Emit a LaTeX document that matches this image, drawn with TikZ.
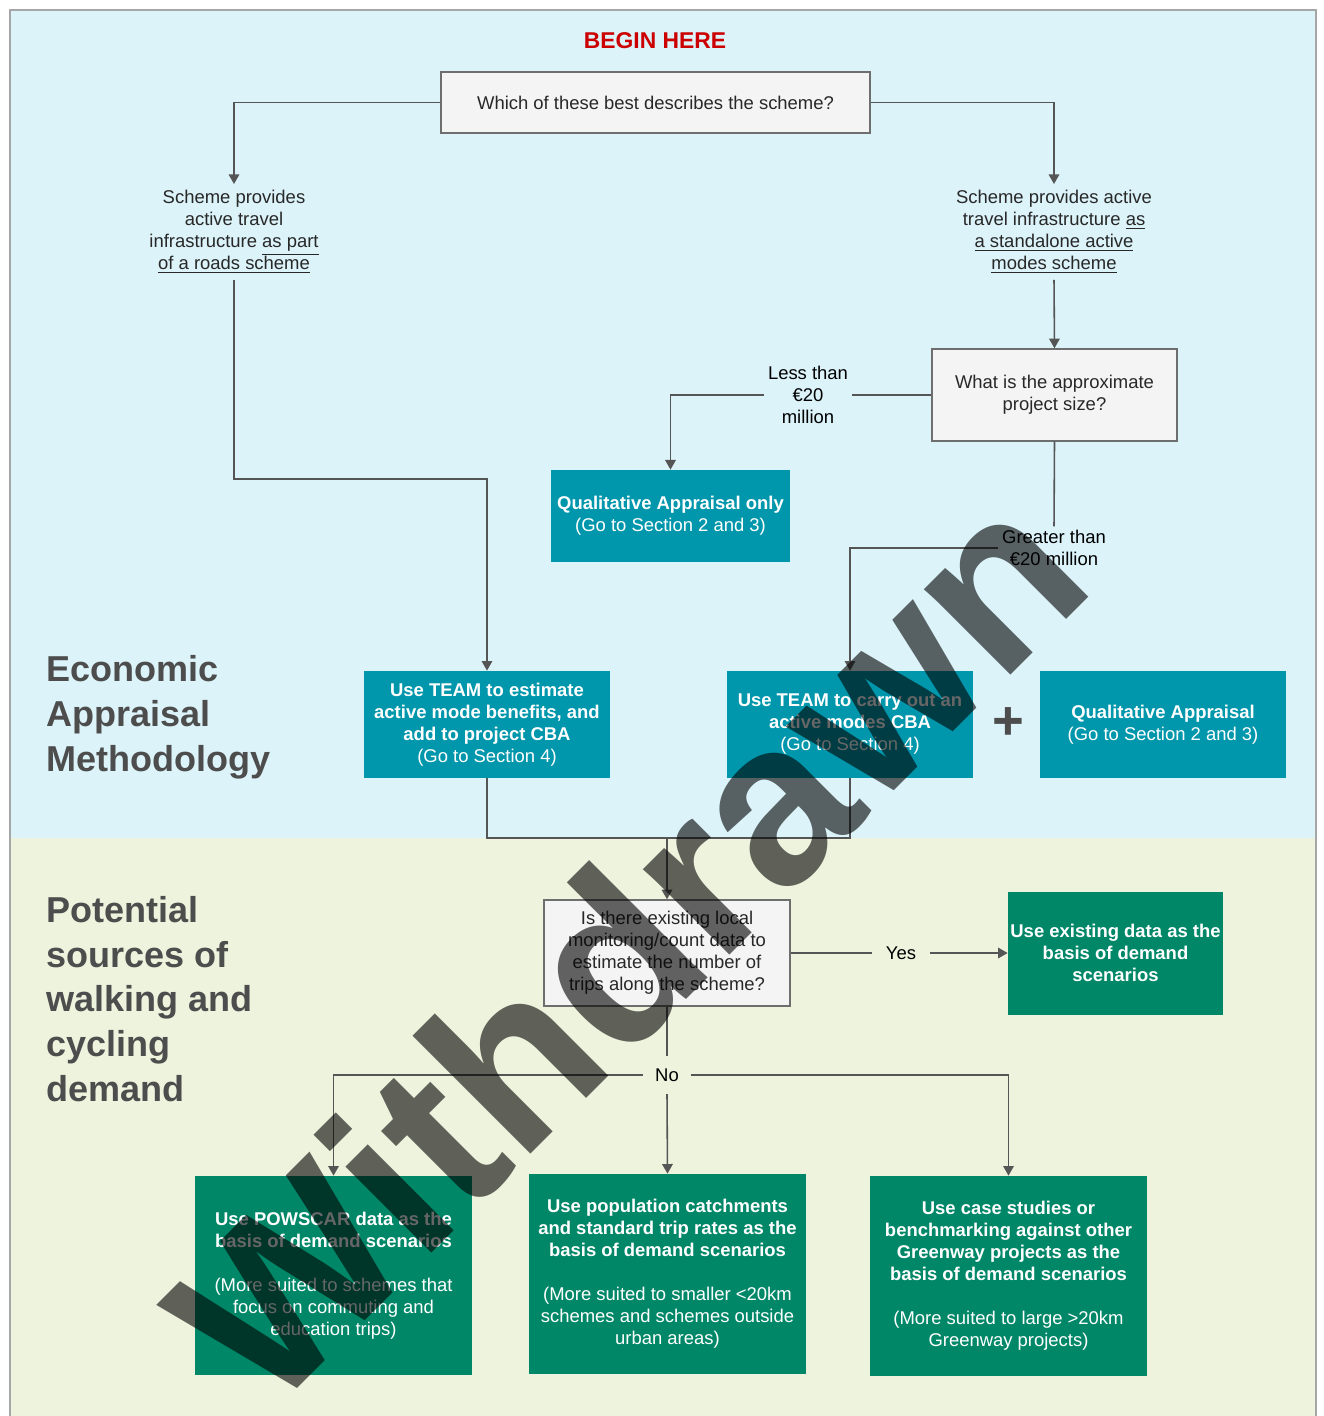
\documentclass[tikz,border=0pt]{standalone}
\usepackage{fontspec}
\setmainfont{Liberation Sans}
\usepackage{tikz}
\usetikzlibrary{arrows.meta}
\usetikzlibrary{arrows, positioning, shapes.geometric}

\definecolor{bluebg}{RGB}{219,243,249}
\definecolor{greenbg}{RGB}{238,243,221}
\definecolor{cTeal}{RGB}{0,150,171}
\definecolor{cGreen}{RGB}{0,135,104}
\definecolor{qfill}{RGB}{244,244,244}
\definecolor{qline}{RGB}{110,110,110}
\definecolor{linegray}{RGB}{85,85,85}
\definecolor{framegray}{RGB}{166,166,166}
\definecolor{darktext}{RGB}{40,40,40}
\definecolor{titlegray}{RGB}{77,77,77}
\definecolor{beginred}{RGB}{204,0,0}

\begin{document}
\begin{tikzpicture}[x=0.02cm,y=-0.02cm,>={Triangle[width=6pt,length=5.5pt]}]
	\tikzstyle{every node}=[font=\fontsize{10.5}{12.5}\selectfont,text=darktext,align=center]
	\tikzstyle{question}=[draw=qline,fill=qfill,line width=0.8pt,inner sep=0pt]
	\tikzstyle{tealbox}=[fill=cTeal,text=white,inner sep=0pt]
	\tikzstyle{greenbox}=[fill=cGreen,text=white,inner sep=0pt]
	\tikzstyle{choice}=[inner sep=3.5pt]
	\tikzstyle{branch}=[inner sep=2pt,text=black]
	\tikzstyle{title}=[font=\fontsize{20.5}{25.5}\selectfont\bfseries,text=titlegray,align=left,anchor=west,inner sep=0pt]
	\tikzstyle{wire}=[linegray,line width=0.9pt]
	\useasboundingbox (0,0) rectangle (1323,1416);
	% background panels
	\fill[bluebg] (10,10) rectangle (1316,838);
	\fill[greenbg] (10,838) rectangle (1316,1416);
	\draw[framegray,line width=0.8pt] (10,1416) -- (10,10) -- (1316,10) -- (1316,1416);
	\node[title] (econ) at (46,717) {Economic\\Appraisal\\Methodology};
	\node[title] (demand) at (46,999) {Potential\\sources of\\walking and\\cycling\\demand};
	\node[font=\fontsize{13}{15}\selectfont\bfseries,text=beginred] (begin) at (655,41) {BEGIN HERE};
	\node[question,minimum width=8.58cm,minimum height=1.22cm] (q1) at (655.5,102.5) {Which of these best describes the scheme?};
	\node[choice] (roads) at (234,232) {Scheme provides\\active travel\\infrastructure \underline{as part}\\\underline{of a roads scheme}};
	\node[choice] (standalone) at (1054,232) {Scheme provides active\\travel infrastructure \underline{as}\\\underline{a standalone active}\\\underline{modes scheme}};
	\node[question,minimum width=4.9cm,minimum height=1.84cm] (q2) at (1054.5,395) {What is the approximate\\project size?};
	\node[branch] (less) at (808,395) {Less than\\€20\\million};
	\node[branch] (greater) at (1054,548) {Greater than\\€20 million};
	\node[tealbox,minimum width=4.78cm,minimum height=1.84cm] (qualonly) at (670.5,516) {\textbf{Qualitative Appraisal only}\\(Go to Section 2 and 3)};
	\node[tealbox,minimum width=4.92cm,minimum height=2.14cm] (teamest) at (487,724.5) {\textbf{Use TEAM to estimate}\\\textbf{active mode benefits, and}\\\textbf{add to project CBA}\\(Go to Section 4)};
	\node[tealbox,minimum width=4.92cm,minimum height=2.14cm] (teamcba) at (850,724.5) {\textbf{Use TEAM to carry out an}\\\textbf{active modes CBA}\\(Go to Section 4)};
	\node[font=\fontsize{31}{31}\selectfont\bfseries,text=titlegray] (plus) at (1008,724) {+};
	\node[tealbox,minimum width=4.92cm,minimum height=2.14cm] (qualapp) at (1163,724.5) {\textbf{Qualitative Appraisal}\\(Go to Section 2 and 3)};
	\coordinate (merge) at (667,838);
	\coordinate (bend) at (234,479);
	\node[question,minimum width=4.92cm,minimum height=2.12cm] (q3) at (667,953) {Is there existing local\\monitoring/count data to\\estimate the number of\\trips along the scheme?};
	\node[branch,inner sep=8pt] (yes) at (901,953) {Yes};
	\node[greenbox,minimum width=4.3cm,minimum height=2.46cm] (existing) at (1115.5,953) {\textbf{Use existing data as the}\\\textbf{basis of demand}\\\textbf{scenarios}};
	\node[branch,inner sep=7pt] (no) at (667,1075) {No};
	\node[greenbox,minimum width=5.54cm,minimum height=3.98cm] (powscar) at (333.5,1275.5) {\textbf{Use POWSCAR data as the}\\\textbf{basis of demand scenarios}\\[12.5pt](More suited to schemes that\\focus on commuting and\\education trips)};
	\node[greenbox,minimum width=5.54cm,minimum height=4cm] (catch) at (667.5,1274) {\textbf{Use population catchments}\\\textbf{and standard trip rates as the}\\\textbf{basis of demand scenarios}\\[12.5pt](More suited to smaller <20km\\schemes and schemes outside\\urban areas)};
	\node[greenbox,minimum width=5.54cm,minimum height=4cm] (cases) at (1008.5,1276) {\textbf{Use case studies or}\\\textbf{benchmarking against other}\\\textbf{Greenway projects as the}\\\textbf{basis of demand scenarios}\\[12.5pt](More suited to large >20km\\Greenway projects)};
	% connectors
	\draw [wire,->] (q1.west) -| (roads.north);
	\draw [wire,->] (q1.east) -| (standalone.north);
	\draw [wire,->] (standalone.south) -- (q2.north);
	\draw [wire] (q2.west) -- (less.east);
	\draw [wire,->] (less.west) -| (qualonly.north);
	\draw [wire] (q2.south) -- (greater.north);
	\draw [wire,->] (greater.west) -| (teamcba.north);
	\draw [wire,->] (roads.south) -- (bend) -| (teamest.north);
	\draw [wire] (teamest.south) |- (merge) -| (teamcba.south);
	\draw [wire,->] (merge) -- (q3.north);
	\draw [wire] (q3.east) -- (yes.west);
	\draw [wire,->] (yes.east) -- (existing.west);
	\draw [wire] (q3.south) -- (no.north);
	\draw [wire,->] (no.west) -| (powscar.north);
	\draw [wire,->] (no.south) -- (catch.north);
	\draw [wire,->] (no.east) -| (cases.north);
	% watermark
	\node[rotate=45,text=black,text opacity=0.6,font=\fontsize{131}{131}\selectfont\bfseries] (stamp) at (625,944) {Withdrawn};
\end{tikzpicture}
\end{document}
